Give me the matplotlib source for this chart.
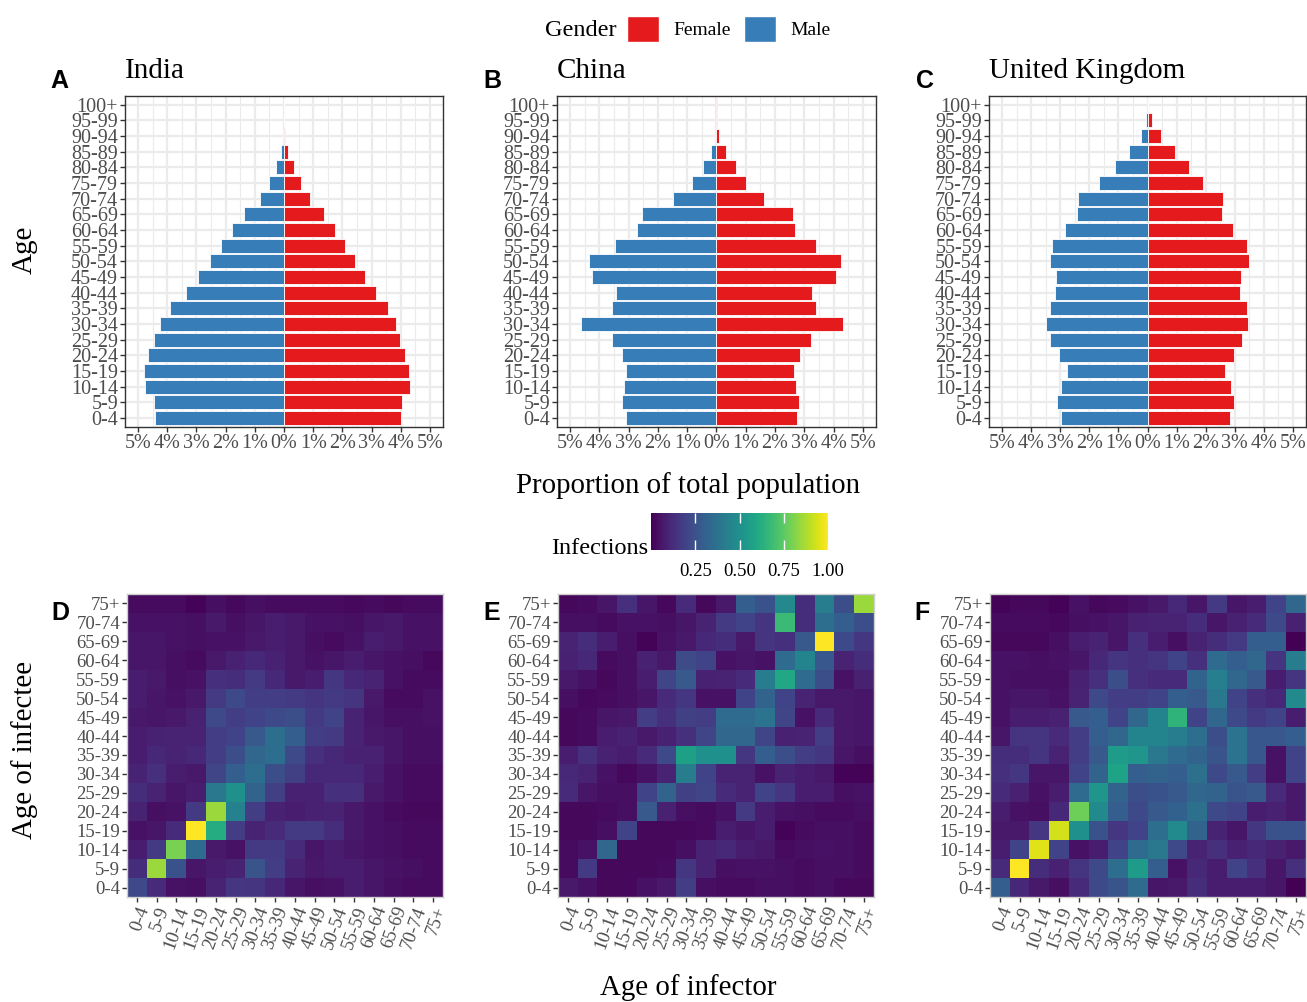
import numpy as np
import matplotlib
matplotlib.use("Agg")
from matplotlib import pyplot as plt
from matplotlib.patches import Patch

plt.rcParams['font.family'] = ['Liberation Serif', 'DejaVu Serif']

# ---- population pyramids (% of total population), ages 0-4 ... 100+
age_groups = ["0-4", "5-9", "10-14", "15-19", "20-24", "25-29", "30-34", "35-39",
              "40-44", "45-49", "50-54", "55-59", "60-64", "65-69", "70-74", "75-79",
              "80-84", "85-89", "90-94", "95-99", "100+"]

india_male = [4.41, 4.46, 4.78, 4.80, 4.67, 4.47, 4.24, 3.90, 3.36, 2.94, 2.54, 2.17,
              1.78, 1.37, 0.83, 0.50, 0.27, 0.10, 0.02, 0.005, 0.001]
india_female = [4.01, 4.05, 4.32, 4.29, 4.15, 3.99, 3.84, 3.57, 3.14, 2.79, 2.42, 2.10,
                1.75, 1.37, 0.90, 0.58, 0.33, 0.14, 0.05, 0.01, 0.002]

china_male = [3.10, 3.23, 3.16, 3.08, 3.23, 3.58, 4.63, 3.57, 3.42, 4.25, 4.34, 3.48,
              2.71, 2.55, 1.49, 0.85, 0.47, 0.20, 0.06, 0.01, 0.001]
china_female = [2.74, 2.81, 2.71, 2.65, 2.85, 3.24, 4.33, 3.39, 3.27, 4.09, 4.25, 3.40,
                2.68, 2.61, 1.64, 1.00, 0.65, 0.33, 0.10, 0.03, 0.005]

uk_male = [2.96, 3.10, 2.98, 2.78, 3.04, 3.35, 3.49, 3.35, 3.17, 3.13, 3.36, 3.28,
           2.82, 2.43, 2.40, 1.67, 1.12, 0.63, 0.24, 0.06, 0.01]
uk_female = [2.83, 2.97, 2.86, 2.67, 2.96, 3.26, 3.46, 3.41, 3.19, 3.20, 3.48, 3.41,
             2.94, 2.56, 2.60, 1.92, 1.43, 0.93, 0.47, 0.14, 0.02]

# ---- who-infects-whom matrices (rows: infectee 75+ down to 0-4, cols: infector 0-4 .. 75+)
contact_groups = ["0-4", "5-9", "10-14", "15-19", "20-24", "25-29", "30-34", "35-39",
                  "40-44", "45-49", "50-54", "55-59", "60-64", "65-69", "70-74", "75+"]

india_inf = [
    [0.03, 0.03, 0.03, 0.01, 0.04, 0.02, 0.04, 0.03, 0.03, 0.03, 0.03, 0.02, 0.03, 0.02, 0.03, 0.03],
    [0.05, 0.05, 0.05, 0.04, 0.07, 0.04, 0.06, 0.08, 0.07, 0.05, 0.05, 0.04, 0.06, 0.07, 0.05, 0.05],
    [0.06, 0.06, 0.05, 0.04, 0.05, 0.05, 0.07, 0.08, 0.07, 0.04, 0.03, 0.05, 0.08, 0.07, 0.05, 0.05],
    [0.06, 0.06, 0.04, 0.03, 0.07, 0.09, 0.11, 0.09, 0.07, 0.05, 0.06, 0.08, 0.06, 0.05, 0.04, 0.02],
    [0.08, 0.07, 0.04, 0.05, 0.14, 0.13, 0.17, 0.11, 0.07, 0.08, 0.16, 0.11, 0.10, 0.05, 0.03, 0.03],
    [0.08, 0.06, 0.05, 0.07, 0.17, 0.22, 0.18, 0.18, 0.17, 0.15, 0.17, 0.15, 0.07, 0.03, 0.03, 0.05],
    [0.07, 0.06, 0.07, 0.09, 0.22, 0.18, 0.20, 0.22, 0.24, 0.17, 0.20, 0.10, 0.06, 0.04, 0.04, 0.05],
    [0.08, 0.09, 0.10, 0.10, 0.18, 0.20, 0.28, 0.36, 0.30, 0.18, 0.17, 0.10, 0.07, 0.06, 0.04, 0.04],
    [0.08, 0.11, 0.10, 0.11, 0.18, 0.24, 0.33, 0.36, 0.22, 0.14, 0.11, 0.09, 0.09, 0.06, 0.04, 0.04],
    [0.10, 0.14, 0.08, 0.07, 0.21, 0.30, 0.36, 0.24, 0.19, 0.11, 0.11, 0.11, 0.08, 0.05, 0.03, 0.03],
    [0.13, 0.10, 0.06, 0.08, 0.40, 0.50, 0.32, 0.19, 0.09, 0.09, 0.14, 0.14, 0.07, 0.05, 0.03, 0.03],
    [0.10, 0.04, 0.05, 0.17, 0.85, 0.44, 0.18, 0.09, 0.08, 0.09, 0.10, 0.07, 0.05, 0.03, 0.02, 0.02],
    [0.05, 0.06, 0.12, 1.00, 0.62, 0.18, 0.10, 0.12, 0.17, 0.17, 0.13, 0.07, 0.05, 0.04, 0.03, 0.03],
    [0.08, 0.17, 0.80, 0.35, 0.07, 0.05, 0.17, 0.17, 0.12, 0.06, 0.08, 0.06, 0.05, 0.04, 0.03, 0.03],
    [0.13, 0.85, 0.25, 0.06, 0.08, 0.10, 0.26, 0.18, 0.10, 0.07, 0.08, 0.08, 0.06, 0.05, 0.04, 0.03],
    [0.22, 0.12, 0.05, 0.04, 0.10, 0.16, 0.15, 0.11, 0.06, 0.04, 0.05, 0.08, 0.06, 0.04, 0.03, 0.03],
]

china_inf = [
    [0.02, 0.03, 0.06, 0.14, 0.06, 0.02, 0.12, 0.02, 0.07, 0.30, 0.25, 0.47, 0.13, 0.42, 0.24, 0.85],
    [0.04, 0.04, 0.03, 0.05, 0.05, 0.04, 0.06, 0.10, 0.17, 0.20, 0.15, 0.68, 0.13, 0.36, 0.30, 0.24],
    [0.10, 0.13, 0.08, 0.04, 0.01, 0.05, 0.07, 0.11, 0.13, 0.07, 0.15, 0.14, 0.28, 1.00, 0.22, 0.16],
    [0.09, 0.11, 0.03, 0.04, 0.09, 0.07, 0.23, 0.20, 0.05, 0.06, 0.05, 0.35, 0.45, 0.27, 0.10, 0.13],
    [0.07, 0.05, 0.02, 0.04, 0.08, 0.21, 0.28, 0.09, 0.10, 0.12, 0.42, 0.60, 0.35, 0.24, 0.05, 0.09],
    [0.04, 0.02, 0.03, 0.04, 0.06, 0.12, 0.16, 0.05, 0.05, 0.20, 0.32, 0.20, 0.10, 0.07, 0.07, 0.06],
    [0.02, 0.03, 0.06, 0.07, 0.18, 0.14, 0.19, 0.18, 0.35, 0.35, 0.38, 0.21, 0.05, 0.12, 0.07, 0.06],
    [0.02, 0.03, 0.08, 0.09, 0.07, 0.09, 0.14, 0.21, 0.33, 0.33, 0.21, 0.09, 0.10, 0.18, 0.07, 0.06],
    [0.08, 0.14, 0.09, 0.08, 0.12, 0.22, 0.57, 0.50, 0.50, 0.16, 0.30, 0.24, 0.18, 0.16, 0.06, 0.04],
    [0.11, 0.10, 0.05, 0.02, 0.05, 0.10, 0.42, 0.20, 0.10, 0.10, 0.05, 0.10, 0.08, 0.07, 0.01, 0.01],
    [0.12, 0.06, 0.04, 0.04, 0.20, 0.32, 0.19, 0.21, 0.12, 0.10, 0.20, 0.16, 0.08, 0.08, 0.04, 0.05],
    [0.02, 0.02, 0.03, 0.04, 0.28, 0.09, 0.04, 0.03, 0.05, 0.17, 0.08, 0.05, 0.04, 0.03, 0.03, 0.04],
    [0.02, 0.02, 0.04, 0.20, 0.02, 0.02, 0.02, 0.03, 0.08, 0.06, 0.08, 0.01, 0.03, 0.04, 0.04, 0.03],
    [0.03, 0.05, 0.33, 0.02, 0.02, 0.02, 0.04, 0.10, 0.11, 0.08, 0.07, 0.03, 0.04, 0.05, 0.04, 0.03],
    [0.03, 0.17, 0.02, 0.02, 0.02, 0.03, 0.16, 0.10, 0.04, 0.05, 0.05, 0.04, 0.03, 0.04, 0.04, 0.03],
    [0.07, 0.05, 0.02, 0.02, 0.05, 0.07, 0.18, 0.04, 0.03, 0.03, 0.04, 0.04, 0.03, 0.04, 0.02, 0.02],
]

uk_inf = [
    [0.01, 0.02, 0.02, 0.01, 0.05, 0.02, 0.03, 0.05, 0.07, 0.11, 0.06, 0.17, 0.06, 0.08, 0.20, 0.33],
    [0.03, 0.03, 0.03, 0.02, 0.04, 0.05, 0.06, 0.09, 0.10, 0.10, 0.13, 0.06, 0.09, 0.12, 0.22, 0.09],
    [0.02, 0.02, 0.02, 0.04, 0.08, 0.10, 0.06, 0.14, 0.08, 0.04, 0.10, 0.13, 0.17, 0.30, 0.30, 0.00],
    [0.05, 0.05, 0.04, 0.05, 0.06, 0.11, 0.15, 0.14, 0.15, 0.20, 0.14, 0.35, 0.30, 0.33, 0.15, 0.42],
    [0.05, 0.04, 0.04, 0.04, 0.09, 0.14, 0.24, 0.14, 0.12, 0.12, 0.32, 0.43, 0.33, 0.28, 0.08, 0.15],
    [0.05, 0.06, 0.06, 0.05, 0.10, 0.22, 0.18, 0.18, 0.20, 0.30, 0.28, 0.40, 0.20, 0.14, 0.11, 0.48],
    [0.05, 0.08, 0.08, 0.09, 0.28, 0.30, 0.20, 0.33, 0.45, 0.65, 0.20, 0.33, 0.22, 0.17, 0.20, 0.08],
    [0.06, 0.15, 0.15, 0.12, 0.18, 0.30, 0.33, 0.45, 0.45, 0.42, 0.36, 0.24, 0.38, 0.27, 0.27, 0.30],
    [0.13, 0.13, 0.15, 0.10, 0.18, 0.28, 0.55, 0.52, 0.40, 0.35, 0.32, 0.26, 0.38, 0.27, 0.05, 0.20],
    [0.14, 0.16, 0.06, 0.06, 0.20, 0.32, 0.58, 0.30, 0.32, 0.30, 0.37, 0.22, 0.28, 0.18, 0.05, 0.20],
    [0.12, 0.09, 0.05, 0.08, 0.35, 0.52, 0.32, 0.24, 0.25, 0.28, 0.33, 0.32, 0.26, 0.28, 0.12, 0.07],
    [0.08, 0.05, 0.04, 0.11, 0.78, 0.48, 0.30, 0.22, 0.28, 0.31, 0.37, 0.22, 0.20, 0.08, 0.09, 0.07],
    [0.07, 0.07, 0.16, 0.93, 0.50, 0.25, 0.16, 0.20, 0.36, 0.48, 0.32, 0.10, 0.06, 0.16, 0.25, 0.25],
    [0.08, 0.20, 0.95, 0.20, 0.05, 0.08, 0.20, 0.35, 0.40, 0.22, 0.10, 0.14, 0.09, 0.11, 0.09, 0.07],
    [0.12, 1.00, 0.13, 0.09, 0.15, 0.22, 0.36, 0.55, 0.30, 0.05, 0.11, 0.08, 0.20, 0.14, 0.06, 0.14],
    [0.30, 0.11, 0.07, 0.04, 0.12, 0.22, 0.26, 0.35, 0.06, 0.07, 0.13, 0.08, 0.08, 0.08, 0.06, 0.00],
]

RED = "#E41A1C"
BLUE = "#377EB8"
TICK_GREY = "#4d4d4d"

W, H = 1307, 1002
fig = plt.figure(figsize=(W / 100, H / 100), dpi=100)


def px_axes(x0, y0, x1, y1):
    """axes placed by pixel box (top-left origin)"""
    return fig.add_axes([x0 / W, 1 - y1 / H, (x1 - x0) / W, (y1 - y0) / H])


def draw_pyramid(ax, male, female, title):
    y = np.arange(len(age_groups))
    ax.barh(y, -np.array(male), height=0.9, color=BLUE, edgecolor="white", linewidth=0.6, zorder=3)
    ax.barh(y, female, height=0.9, color=RED, edgecolor="white", linewidth=0.6, zorder=3)
    ax.set_xlim(-5.45, 5.45)
    ax.set_ylim(-0.57, 20.55)
    ax.set_xticks(np.arange(-5, 6))
    ax.set_xticklabels([f"{abs(v)}%" for v in range(-5, 6)])
    ax.set_xticks(np.arange(-4.5, 5, 1), minor=True)
    ax.set_yticks(y)
    ax.set_yticklabels(age_groups)
    ax.grid(which="major", color="#ebebeb", linewidth=1.6)
    ax.grid(which="minor", axis="x", color="#ebebeb", linewidth=0.8)
    ax.set_axisbelow(True)
    for s in ax.spines.values():
        s.set_color("#333333")
        s.set_linewidth(1.0)
    ax.tick_params(which="major", color="#333333", length=3.5, width=1,
                   labelcolor=TICK_GREY, labelsize=14.5, pad=1.5)
    ax.tick_params(which="minor", length=0)
    ax.set_title(title, loc="left", fontsize=21, pad=13)


def draw_heatmap(ax, grid):
    data = np.array(grid)[::-1]
    im = ax.imshow(data, cmap="viridis", vmin=0, vmax=1, origin="lower",
                   aspect="auto", interpolation="nearest",
                   extent=(-0.5, 15.5, -0.5, 15.5))
    ax.set_xticks(range(len(contact_groups)))
    ax.set_xticklabels(contact_groups, rotation=70, ha="right", va="top",
                       rotation_mode="anchor")
    ax.set_yticks(range(len(contact_groups)))
    ax.set_yticklabels(contact_groups)
    for s in ax.spines.values():
        s.set_color("#cfcfcf")
        s.set_linewidth(1.0)
    ax.tick_params(color="#333333", length=3.5, width=1, labelcolor=TICK_GREY,
                   labelsize=13.5, pad=1.5)
    return im


# top row: pyramids
pyr_boxes = [(125, 96, 443, 427), (557, 96, 876, 427), (989, 96, 1306, 427)]
pyr_data = [(india_male, india_female, "India"),
            (china_male, china_female, "China"),
            (uk_male, uk_female, "United Kingdom")]
for box, (m, f, t) in zip(pyr_boxes, pyr_data):
    draw_pyramid(px_axes(*box), m, f, t)

# bottom row: heatmaps
hm_boxes = [(127, 594, 443, 897), (558, 594, 874, 897), (990, 594, 1306, 897)]
im = None
for box, g in zip(hm_boxes, [india_inf, china_inf, uk_inf]):
    im = draw_heatmap(px_axes(*box), g)

# panel letters
for letter, (x, y) in zip("ABCDEF", [(50, 81), (483, 81), (916, 81),
                                     (51, 613), (483, 613), (914, 613)]):
    fig.text(x / W, 1 - y / H, letter, family="Liberation Sans", weight="bold",
             fontsize=18, ha="left", va="center")

# axis titles
fig.text(25 / W, 1 - 250 / H, "Age", rotation=90, fontsize=21, ha="center", va="center")
fig.text(688 / W, 1 - 486 / H, "Proportion of total population", fontsize=20.8,
         ha="center", va="center")
fig.text(25 / W, 1 - 750 / H, "Age of infectee", rotation=90, fontsize=20.8,
         ha="center", va="center")
fig.text(688 / W, 1 - 988 / H, "Age of infector", fontsize=20.8, ha="center", va="center")

# gender legend
fig.text(545 / W, 1 - 30 / H, "Gender", fontsize=17.5, ha="left", va="center")
handles = [Patch(facecolor=RED, edgecolor="white"), Patch(facecolor=BLUE, edgecolor="white")]
fig.legend(handles, ["Female", "Male"], ncol=2, frameon=False, loc="center left",
           bbox_to_anchor=(627 / W, 1 - 29 / H), fontsize=14, handlelength=1.65,
           handleheight=1.65, handletextpad=0.75, columnspacing=0.65,
           borderpad=0, borderaxespad=0)

# infections colour bar
cax = px_axes(651, 513, 828, 550)
cb = fig.colorbar(im, cax=cax, orientation="horizontal", ticks=[0.25, 0.5, 0.75, 1.0])
cb.outline.set_visible(False)
cax.set_xticklabels(["0.25", "0.50", "0.75", "1.00"])
cax.xaxis.set_ticks_position("both")
cax.tick_params(which="major", direction="in", color="white", length=7, width=1,
                labelsize=13.5, labelcolor="black", pad=9, labeltop=False)
cax.tick_params(which="minor", length=0)
fig.text(648 / W, 1 - 549 / H, "Infections", fontsize=17.5, ha="right", va="center")

fig.savefig("out.png", dpi=100)
